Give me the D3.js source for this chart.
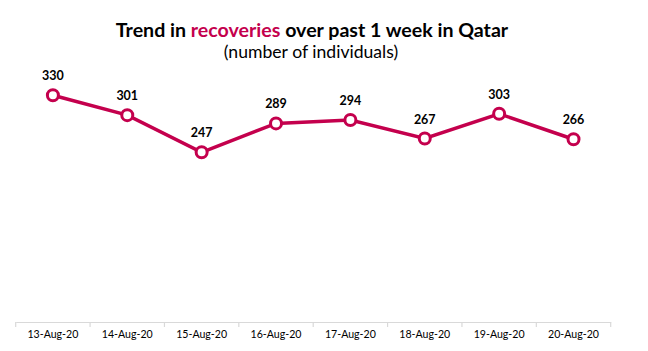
<html>
<head>
  <script src="https://d3js.org/d3.v7.min.js"></script>
  <style>
    body { margin: 0; background: white; }
    text { font-family: Lato, "Open Sans", sans-serif; }
  </style>
</head>
<body>
  <svg id="chart" width="648" height="351"></svg>
  <script>
    const dates = ["13-Aug-20", "14-Aug-20", "15-Aug-20", "16-Aug-20", "17-Aug-20", "18-Aug-20", "19-Aug-20", "20-Aug-20"];
    const recoveries = [330, 301, 247, 289, 294, 267, 303, 266];

    const data = dates.map((d, i) => ({ date: d, value: recoveries[i] }));
    const svg = d3.select("svg#chart");
    const lineColor = "#c4004d";

    const x = d3.scaleBand().domain(dates).range([15.7, 610.7]);
    const y = d3.scaleLinear().domain([0, 350]).range([322, 81.5]);

    // title
    const title = svg.append("text")
      .attr("x", 312)
      .attr("y", 37)
      .attr("text-anchor", "middle")
      .style("font-size", "19.6px")
      .style("font-weight", "bold");
    title.append("tspan").text("Trend in ");
    title.append("tspan").style("fill", lineColor).text("recoveries");
    title.append("tspan").text(" over past 1 week in Qatar");

    svg.append("text")
      .attr("x", 311)
      .attr("y", 58)
      .attr("text-anchor", "middle")
      .style("font-size", "17.6px")
      .text("(number of individuals)");

    // x axis
    const axis = svg.append("g")
      .attr("transform", "translate(0,322)")
      .call(d3.axisBottom(x).tickSize(0).tickPadding(8));
    axis.select(".domain").attr("stroke", "#d9d9d9").attr("stroke-width", 1.2);
    axis.selectAll(".tick text")
      .style("font-family", "Lato, sans-serif")
      .style("font-size", "10.6px")
      .attr("fill", "#000");
    // band boundary ticks
    const bounds = dates.map(d => x(d)).concat([x.range()[1]]);
    bounds.forEach(b => {
      svg.append("line")
        .attr("x1", b).attr("x2", b)
        .attr("y1", 322).attr("y2", 327)
        .attr("stroke", "#d9d9d9")
        .attr("stroke-width", 1.2);
    });

    const cx = d => x(d.date) + x.bandwidth() / 2;

    svg.append("path")
      .datum(data)
      .attr("fill", "none")
      .attr("stroke", lineColor)
      .attr("stroke-width", 3.5)
      .attr("d", d3.line().x(cx).y(d => y(d.value)));

    svg.selectAll("circle.pt")
      .data(data)
      .join("circle")
      .attr("class", "pt")
      .attr("cx", cx)
      .attr("cy", d => y(d.value))
      .attr("r", 5.5)
      .attr("fill", "white")
      .attr("stroke", lineColor)
      .attr("stroke-width", 3);

    svg.selectAll("text.lbl")
      .data(data)
      .join("text")
      .attr("class", "lbl")
      .attr("x", cx)
      .attr("y", d => y(d.value) - 15)
      .attr("text-anchor", "middle")
      .style("font-size", "12.5px")
      .style("font-weight", "bold")
      .text(d => d.value);
  </script>
</body>
</html>
